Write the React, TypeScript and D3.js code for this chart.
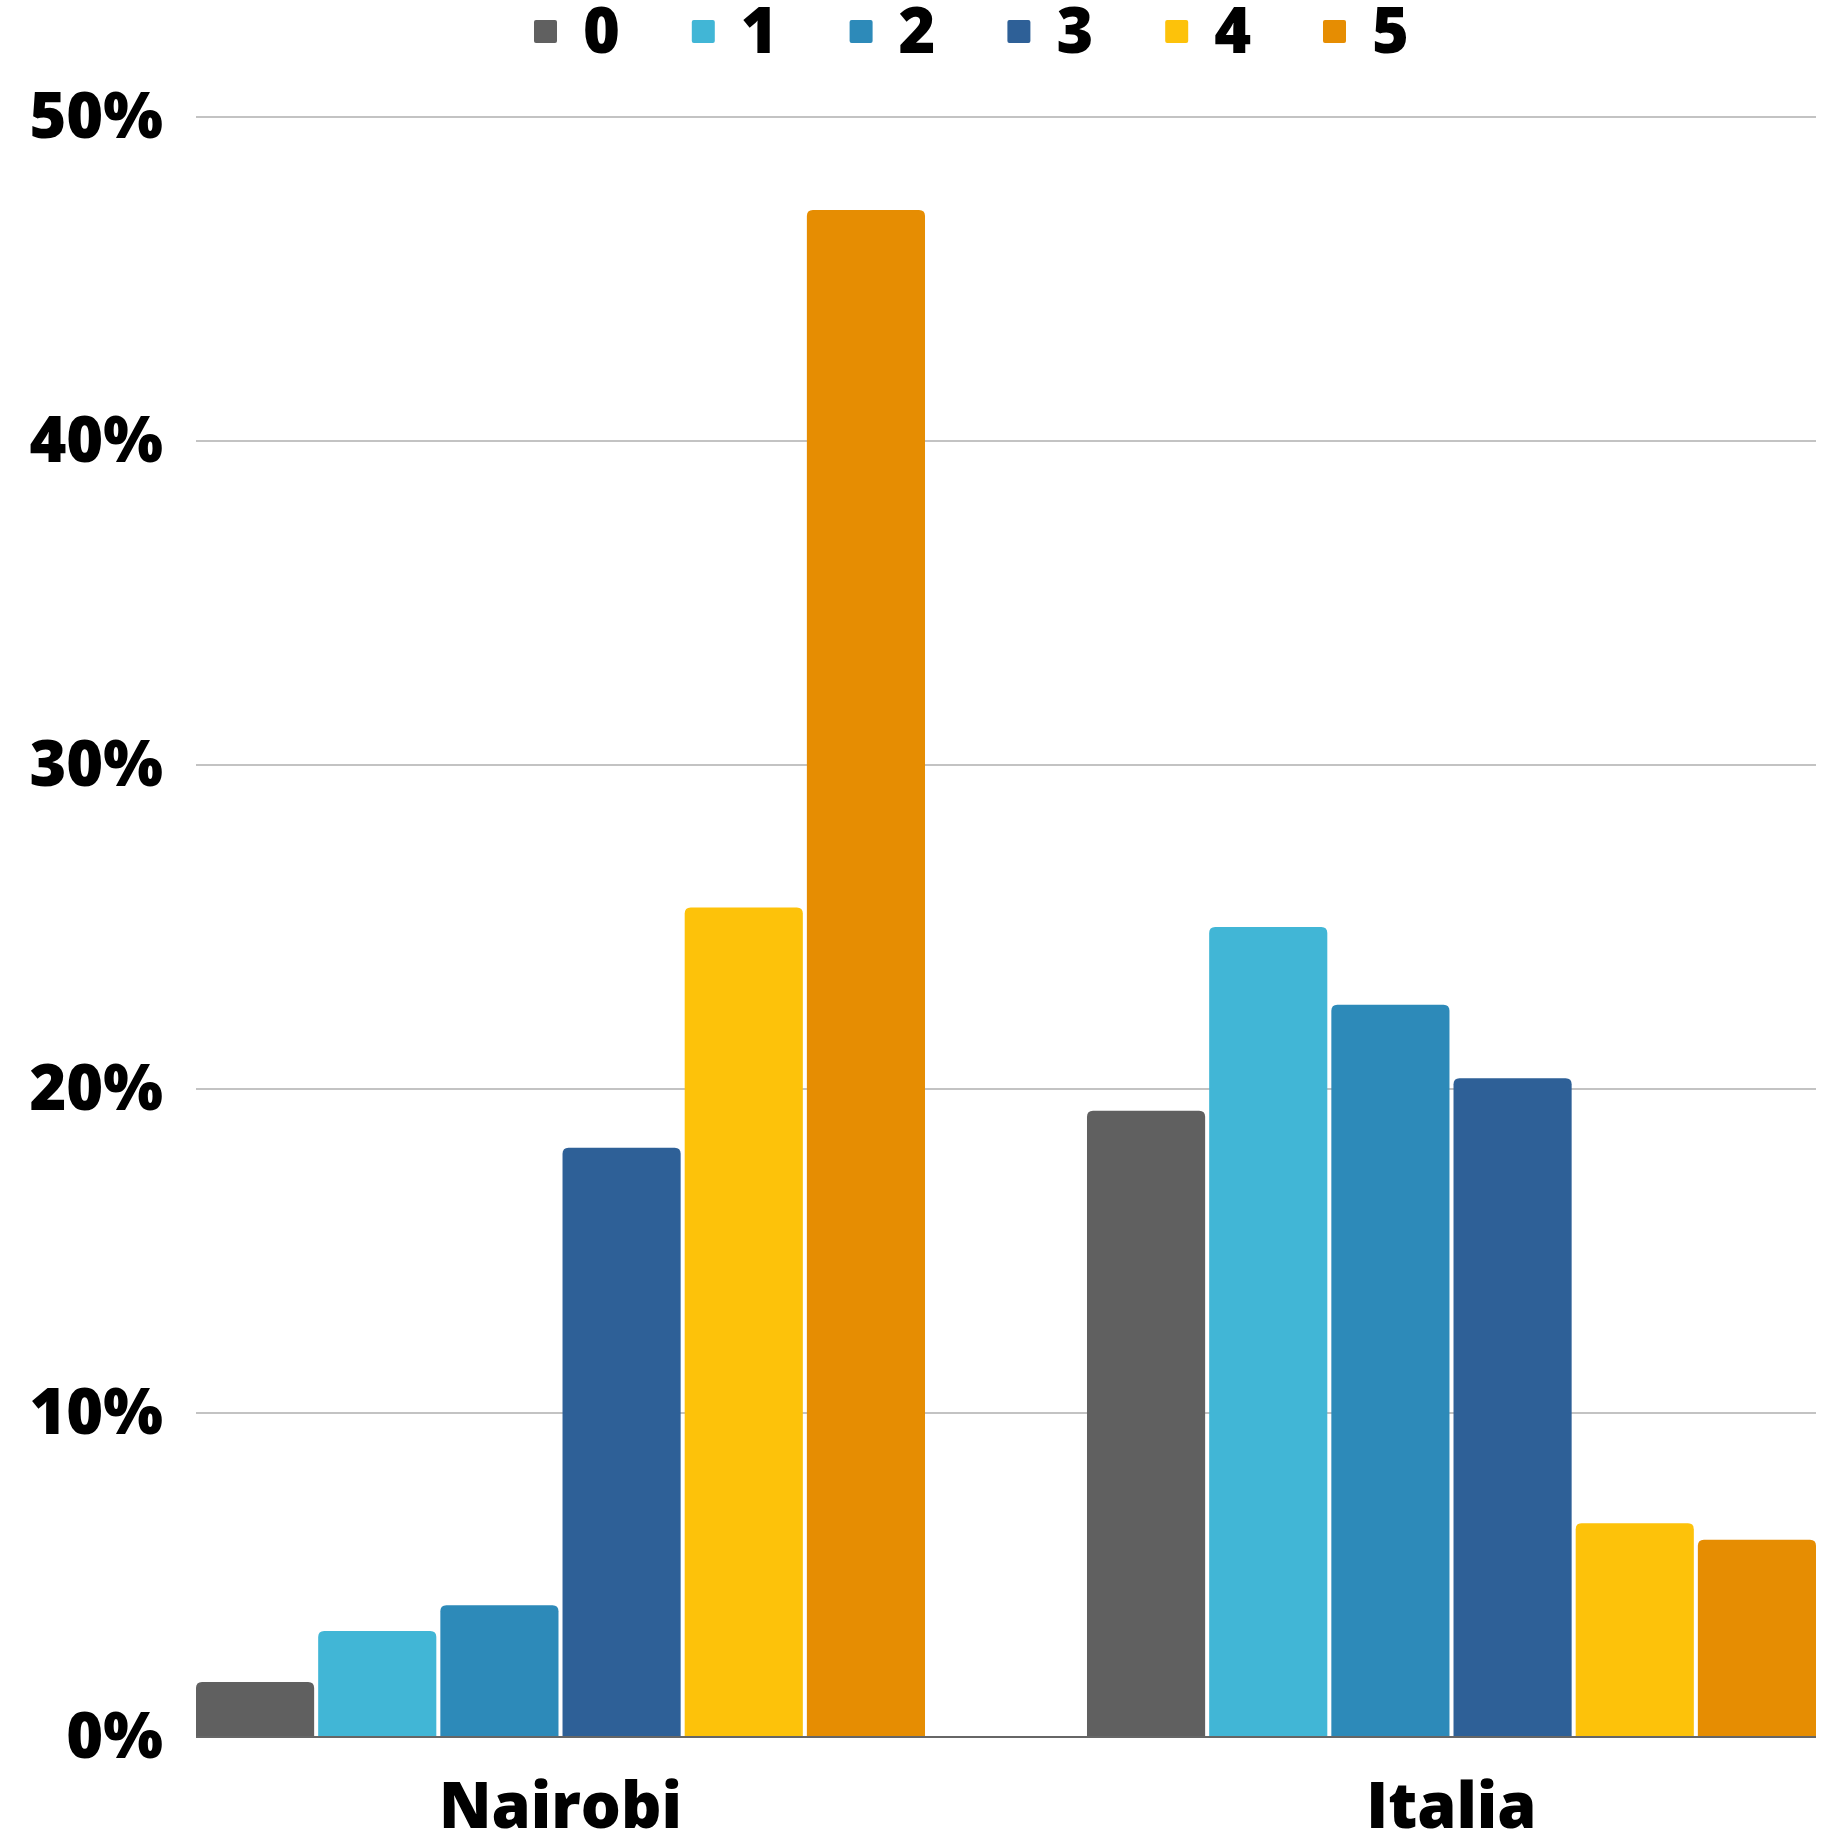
import React from "react";
import * as d3 from "d3";

const categories = ["Nairobi", "Italia"];
const seriesNames = ["0", "1", "2", "3", "4", "5"];
const nairobiValues = [1.7, 3.27, 4.07, 18.19, 25.6, 47.13];
const italiaValues = [19.33, 25.0, 22.6, 20.33, 6.6, 6.09];
const seriesColors = ["#606060", "#41B6D6", "#2D8AB9", "#2E6097", "#FDC20A", "#E68D02"];
const yTicks = [0, 10, 20, 30, 40, 50];

const W = 1840;
const H = 1836;
const FONT = "'Open Sans', sans-serif";

function topRoundedRect(x: number, y: number, w: number, h: number, r: number) {
  const rr = Math.min(r, w / 2, h);
  return `M${x},${y + h} L${x},${y + rr} Q${x},${y} ${x + rr},${y} L${x + w - rr},${y} Q${x + w},${y} ${x + w},${y + rr} L${x + w},${y + h} Z`;
}

export default function App() {
  const y = d3.scaleLinear().domain([0, 50]).range([1737, 117]);
  const x0 = d3.scaleBand<string>().domain(categories).range([196, 1816]).paddingInner(0.1818).paddingOuter(0);
  const x1 = d3.scaleBand<string>().domain(seriesNames).range([0, x0.bandwidth()]).paddingInner(0.033).paddingOuter(0);
  const data = [nairobiValues, italiaValues];
  const legendX = d3.scaleLinear().domain([0, 5]).range([534, 1323]);

  return (
    <svg width={W} height={H} style={{ position: "absolute", left: 0, top: 0, background: "#fff" }} fontFamily={FONT}>
      {yTicks.filter((t) => t > 0).map((t) => (
        <line key={t} x1={196} x2={1816} y1={y(t)} y2={y(t)} stroke="#C3C3C3" strokeWidth={2} />
      ))}
      {yTicks.map((t) => (
        <text key={t} x={163} y={y(t) + 21} textAnchor="end" fontSize={63} fontWeight={800} fill="#000">
          {t}%
        </text>
      ))}
      {categories.map((c, ci) => (
        <g key={c} transform={`translate(${x0(c)},0)`}>
          {seriesNames.map((s, si) => {
            const v = data[ci][si];
            const bx = x1(s)!;
            const by = y(v);
            return (
              <path key={s} d={topRoundedRect(bx, by, x1.bandwidth(), y(0) - by, 6)} fill={seriesColors[si]} />
            );
          })}
        </g>
      ))}
      <line x1={196} x2={1816} y1={y(0)} y2={y(0)} stroke="#666" strokeWidth={2} />
      {categories.map((c) => (
        <text key={c} x={x0(c)! + x0.bandwidth() / 2} y={1828} textAnchor="middle" fontSize={63} fontWeight={800} fill="#000">
          {c}
        </text>
      ))}
      {seriesNames.map((s, i) => (
        <g key={s}>
          <rect x={legendX(i)} y={20} width={23} height={23} rx={2} fill={seriesColors[i]} />
          <text x={legendX(i) + 49} y={53} fontSize={63} fontWeight={800} fill="#000">
            {s}
          </text>
        </g>
      ))}
    </svg>
  );
}
